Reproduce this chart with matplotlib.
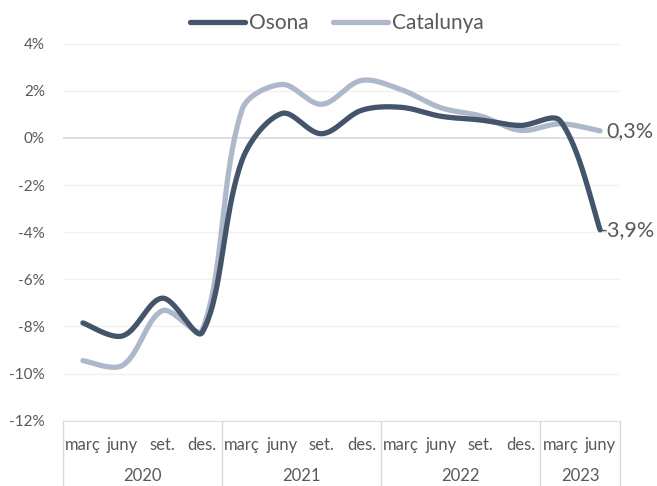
import numpy as np
import matplotlib
matplotlib.use("Agg")
import matplotlib.pyplot as plt
import matplotlib.transforms as mtransforms

# --- data ---
years = ['2020', '2021', '2022', '2023']
months = ['març', 'juny', 'set.', 'des.']
months_per_year = [4, 4, 4, 2]
osona = [-7.85, -8.4, -6.8, -8.25, -0.95, 1.04, 0.18, 1.17, 1.3, 0.92, 0.76, 0.53, 0.72, -3.9]
catalunya = [-9.45, -9.65, -7.33, -8.15, 1.2, 2.27, 1.43, 2.44, 2.05, 1.28, 0.93, 0.32, 0.6, 0.3]
y_ticks = [-12, -10, -8, -6, -4, -2, 0, 2, 4]

TEXT = '#595959'
C_OSONA = '#44546A'
C_CAT = '#ADB9CA'

plt.rcParams['font.family'] = ['Lato', 'DejaVu Sans']

# pixel size of one x step and one y unit, used for the smoothing
SX, SY = 39.8, 23.5


def smooth(x, y, n=40, tension=1 / 3):
    # Excel-like "smoothed line": parametric bezier with distance-weighted tangents
    p = np.column_stack([np.asarray(x, float) * SX, np.asarray(y, float) * SY])
    out = [p[:1]]
    t = np.linspace(0, 1, n)[1:, None]
    for i in range(len(p) - 1):
        a, b = p[i], p[i + 1]
        pa = p[i - 1] if i > 0 else a
        pb = p[i + 2] if i + 2 < len(p) else b
        d_prev = np.linalg.norm(a - pa)
        d_cur = np.linalg.norm(b - a)
        d_next = np.linalg.norm(pb - b)
        c1 = a + (b - pa) * tension * d_cur / (d_prev + d_cur) if d_prev > 0 else a + (b - a) * tension / 2
        c2 = b - (pb - a) * tension * d_cur / (d_cur + d_next) if d_next > 0 else b - (b - a) * tension / 2
        seg = (1 - t) ** 3 * a + 3 * (1 - t) ** 2 * t * c1 + 3 * (1 - t) * t ** 2 * c2 + t ** 3 * b
        out.append(seg)
    pts = np.vstack(out)
    return pts[:, 0] / SX, pts[:, 1] / SY


fig = plt.figure(figsize=(6.57, 4.86), dpi=100)
ax = fig.add_axes([63 / 657, (486 - 420.7) / 486, (620 - 63) / 657, (420.7 - 43.7) / 486])

labels = []
for yr, n in zip(years, months_per_year):
    labels += months[:n]
x = np.arange(len(labels))

sx, sy = smooth(x, catalunya)
ax.plot(sx, sy, color=C_CAT, lw=3.8, solid_capstyle='round', label='Catalunya', zorder=3)
ox, oy = smooth(x, osona)
ax.plot(ox, oy, color=C_OSONA, lw=3.8, solid_capstyle='round', label='Osona', zorder=4)

ax.set_xlim(-0.5, len(labels) - 0.5)
ax.set_ylim(-12, 4)
ax.set_yticks(y_ticks)
ax.set_yticklabels([f'{v}%' for v in y_ticks])
ax.tick_params(axis='y', length=0, pad=13, labelsize=11, labelcolor=TEXT)
ax.set_xticks([])

for v in y_ticks:
    ax.axhline(v, color='#D9D9D9' if v == 0 else '#F0F0F0', lw=1.2 if v == 0 else 1.0, zorder=1)

for s in ['top', 'right', 'left']:
    ax.spines[s].set_visible(False)
ax.spines['bottom'].set_color('#E0E0E0')

# category axis: months + years with separators
trans = mtransforms.blended_transform_factory(ax.transData, ax.transAxes)
for xi, lab in zip(x, labels):
    ax.text(xi, -0.065, lab, transform=trans, ha='center', va='center', fontsize=12, color=TEXT)
start = 0
for yr, n in zip(years, months_per_year):
    ax.text(start + (n - 1) / 2, -0.146, yr, transform=trans, ha='center', va='center',
            fontsize=12, color=TEXT)
    ax.plot([start - 0.5, start - 0.5], [0, -0.2], transform=trans, color='#D9D9D9', lw=1, clip_on=False)
    start += n
ax.plot([start - 0.5, start - 0.5], [0, -0.2], transform=trans, color='#D9D9D9', lw=1, clip_on=False)

# end labels
ax.text(x[-1] + 0.15, catalunya[-1], '0,3%', ha='left', va='center', fontsize=15.5, color=TEXT)
ax.text(x[-1] - 0.02, osona[-1], '-3,9%', ha='left', va='center', fontsize=15.5, color=TEXT, zorder=2)

h, l = ax.get_legend_handles_labels()
fig.legend(h[::-1], l[::-1], loc='center', bbox_to_anchor=(337 / 657, 1 - 23 / 486), ncol=2,
           frameon=False, fontsize=15, handlelength=2.6, handletextpad=0.2, columnspacing=1.2,
           labelcolor=TEXT)

fig.savefig('out.png', dpi=100)
